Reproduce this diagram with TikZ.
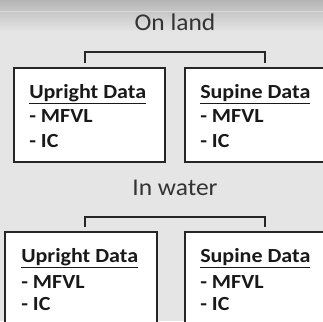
\documentclass[tikz,border=0pt]{standalone}
\usepackage{fontspec}
\setmainfont{Carlito}
\newcommand{\widetext}[2]{\scalebox{#1}[1]{#2}}
\begin{document}
\begin{tikzpicture}[x=0.75pt,y=-0.75pt,
  heading/.style={font=\fontsize{18}{20}\selectfont, text=black!80, anchor=base, inner sep=0pt},
  itemtext/.style={font=\fontsize{15}{17}\selectfont\bfseries, text=black!90, anchor=base west, inner sep=0pt},
  databox/.style={draw=black!85, line width=1.5pt, fill=white},
  bracket/.style={draw=black!85, line width=1.5pt}]
  % canvas and background
  \useasboundingbox (0,0) rectangle (323,321);
  \clip (0,0) rectangle (323,321);
  \fill[black!10] (0,0) rectangle (323,321);
  \shade[top color=black!29, bottom color=black!10] (0,0) rectangle (323,32);
  \draw[white!85!black, line width=0.4pt] (0,11) -- (323,11);

  % upper group
  \node[heading] (land) at (175,31) {\widetext{1.06}{On land}};
  \coordinate (b1l) at (85,63);
  \coordinate (b1r) at (265,63);
  \draw[bracket] (b1l) |- (175,52) -| (b1r);
  \draw[databox] (14,68) rectangle (165,162);
  \draw[databox] (185,68) rectangle (335,162);
  \node[itemtext] (u1) at (29,98) {\widetext{1.1}{\underline{Upright Data}}};
  \node[itemtext] (u1m) at (29,122) {\widetext{1.1}{- MFVL}};
  \node[itemtext] (u1i) at (29,147) {\widetext{1.1}{- IC}};
  \node[itemtext] (s1) at (200,98) {\widetext{1.1}{\underline{Supine Data}}};
  \node[itemtext] (s1m) at (200,122) {\widetext{1.1}{- MFVL}};
  \node[itemtext] (s1i) at (200,147) {\widetext{1.1}{- IC}};

  % lower group
  \node[heading] (water) at (175,195) {\widetext{1.06}{In water}};
  \coordinate (b2l) at (85,227);
  \coordinate (b2r) at (265,227);
  \draw[bracket] (b2l) |- (175,217) -| (b2r);
  \draw[databox] (5,232) rectangle (157,335);
  \draw[databox] (185,232) rectangle (335,335);
  \node[itemtext] (u2) at (21,262) {\widetext{1.1}{\underline{Upright Data}}};
  \node[itemtext] (u2m) at (21,288) {\widetext{1.1}{- MFVL}};
  \node[itemtext] (u2i) at (21,310) {\widetext{1.1}{- IC}};
  \node[itemtext] (s2) at (200,262) {\widetext{1.1}{\underline{Supine Data}}};
  \node[itemtext] (s2m) at (200,288) {\widetext{1.1}{- MFVL}};
  \node[itemtext] (s2i) at (200,310) {\widetext{1.1}{- IC}};
\end{tikzpicture}
\end{document}
